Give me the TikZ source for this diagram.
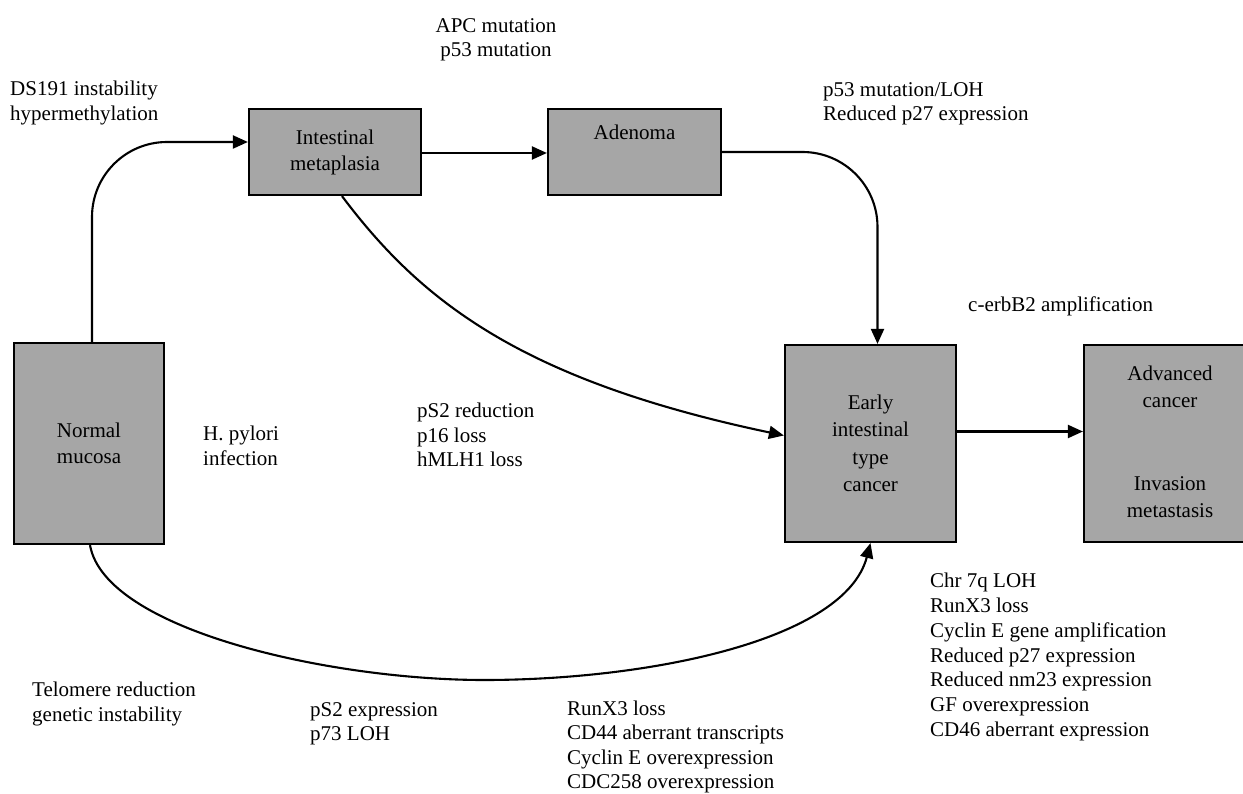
\documentclass[tikz,border=0pt]{standalone}
\usepackage{fontspec}
\setmainfont{Liberation Serif}
\usetikzlibrary{arrows.meta}
\definecolor{boxgray}{HTML}{A6A6A6}
\begin{document}
\begin{tikzpicture}[x=1pt,y=-1pt,
  basebox/.style={draw=black, line width=2.2pt, fill=boxgray, inner sep=0pt, font=\fontsize{21}{26}\selectfont},
  box/.style={basebox, align=center},
  lbl/.style={anchor=north west, inner sep=0pt, align=left, font=\fontsize{21}{24.5}\selectfont},
  conn/.style={line width=2.1pt, -{Triangle[length=15pt,width=13pt]}},
]
\useasboundingbox (0,0) rectangle (1243,794);
\fill[white] (0,0) rectangle (1243,794);

\node[box, minimum width=150pt, minimum height=201pt] (nm) at (89,443.5) {Normal\\mucosa};
\node[box, minimum width=172pt, minimum height=86pt] (im) at (335,152) {Intestinal\\metaplasia};
\node[box, minimum width=173pt, minimum height=86pt, text height=15pt, text depth=40pt] (ad) at (634.5,152) {Adenoma};
\node[box, minimum width=171pt, minimum height=197pt, font=\fontsize{21}{27.5}\selectfont] (ec) at (870.5,443.5) {Early\\intestinal\\type\\cancer};
\node[basebox, minimum width=210pt, minimum height=197pt, font=\fontsize{21}{27}\selectfont] (adv) at (1189,443.5)
  {\begin{tabular}{@{}c@{}}Advanced\\cancer\\[56pt]Invasion\\metastasis\end{tabular}\hspace*{38pt}};

\coordinate (low) at (484,680);

\draw[conn, rounded corners=75pt] ([xshift=3pt]nm.north) |- ([yshift=10pt]im.west);
\draw[conn] ([yshift=-1pt]im.east) -- ([yshift=-1pt]ad.west);
\draw[conn, rounded corners=75pt] (ad.east) -| ([xshift=7pt]ec.north);
\draw[conn] ([xshift=7pt]im.south) .. controls (420,300) and (520,380) .. ([yshift=8pt]ec.west);
\draw[conn] ([yshift=12pt]ec.east) -- ([yshift=12pt]adv.west);
\draw[conn] ([xshift=1pt]nm.south) .. controls (105,630) and (330,680) .. (low) .. controls (650,680) and (845,640) .. (ec.south);

\node[lbl] (t1) at (10,81) {DS191 instability\\hypermethylation};
\node[lbl, anchor=north, align=center] (t2) at (496,18) {APC mutation\\p53 mutation};
\node[lbl] (t3) at (823,82) {p53 mutation/LOH\\Reduced p27 expression};
\node[lbl] (t4) at (968,297) {c-erbB2 amplification};
\node[lbl] (t5) at (203,426) {H. pylori\\infection};
\node[lbl] (t6) at (417,403) {pS2 reduction\\p16 loss\\hMLH1 loss};
\node[lbl] (t7) at (32,682) {Telomere reduction\\genetic instability};
\node[lbl] (t8) at (310,702) {pS2 expression\\p73 LOH};
\node[lbl, font=\fontsize{21}{24.2}\selectfont] (t9) at (567,701) {RunX3 loss\\CD44 aberrant transcripts\\Cyclin E overexpression\\CDC258 overexpression};
\node[lbl, font=\fontsize{21}{24.8}\selectfont] (t10) at (930,573) {Chr 7q LOH\\RunX3 loss\\Cyclin E gene amplification\\Reduced p27 expression\\Reduced nm23 expression\\GF overexpression\\CD46 aberrant expression};
\end{tikzpicture}
\end{document}
